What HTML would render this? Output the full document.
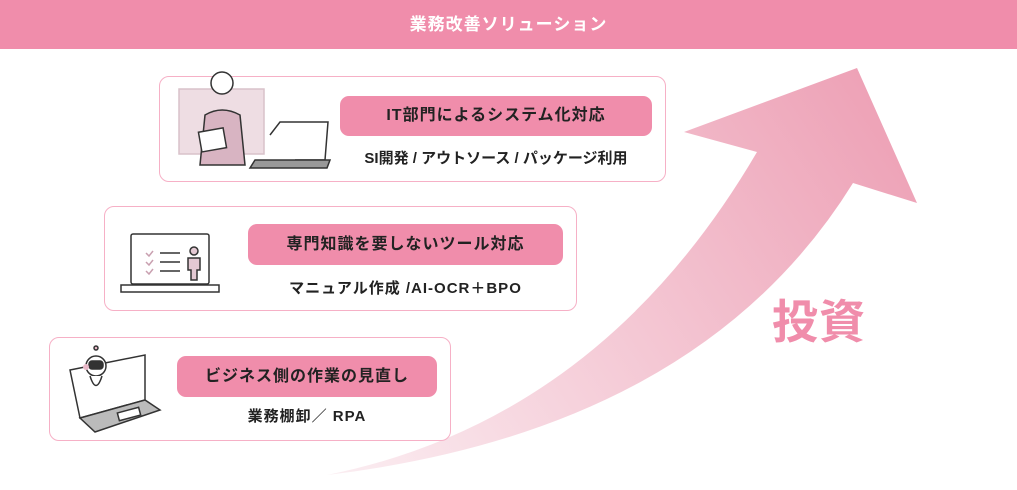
<!DOCTYPE html>
<html><head><meta charset="utf-8"><style>
*{margin:0;padding:0;box-sizing:border-box}
body{width:1017px;height:490px;background:#fff;position:relative;overflow:hidden;font-family:"Liberation Sans","Noto Sans CJK JP",sans-serif;color:#222}
.hdr{position:absolute;left:0;top:0;width:1017px;height:49px;background:#f08dab;color:#fff;font-size:17px;font-weight:bold;text-align:center;line-height:50px;letter-spacing:1px}
.card{position:absolute;border:1.5px solid #f6b0c6;border-radius:10px;background:#fff}
.pill{position:absolute;background:#f08dab;border-radius:9px;font-size:16px;font-weight:bold;text-align:center;color:#222;letter-spacing:1px}
.sub{position:absolute;font-size:15px;font-weight:bold;text-align:center;color:#222}
.inv{position:absolute;left:772px;top:286px;font-size:46px;font-weight:bold;color:#f08dab;letter-spacing:1px}
svg{position:absolute;left:0;top:0}
</style></head><body>
<div class="hdr">業務改善ソリューション</div>
<svg width="1017" height="490">
<defs><linearGradient id="g" x1="327" y1="475" x2="900" y2="100" gradientUnits="userSpaceOnUse">
<stop offset="0" stop-color="#fbeef2"/><stop offset="1" stop-color="#eda0b5"/></linearGradient></defs>
<path d="M327,475 Q600,420 757,152 L684,132 L857,68 L917,203 L853,183 Q700,430 327,475 Z" fill="url(#g)"/>
</svg>
<div class="card" style="left:159px;top:76px;width:507px;height:106px"></div>
<div class="card" style="left:104px;top:206px;width:473px;height:105px"></div>
<div class="card" style="left:49px;top:337px;width:402px;height:104px"></div>
<div class="pill" style="left:340px;top:96px;width:312px;height:40px;line-height:40px">IT部門によるシステム化対応</div>
<div class="sub" style="left:340px;top:147px;width:312px">SI開発 / アウトソース / パッケージ利用</div>
<div class="pill" style="left:248px;top:224px;width:315px;height:41px;line-height:41px">専門知識を要しないツール対応</div>
<div class="sub" style="left:248px;top:277px;width:315px;letter-spacing:1px">マニュアル作成 /AI-OCR＋BPO</div>
<div class="pill" style="left:177px;top:356px;width:260px;height:41px;line-height:41px">ビジネス側の作業の見直し</div>
<div class="sub" style="left:177px;top:405px;width:260px;letter-spacing:1px">業務棚卸／ RPA</div>
<div class="inv">投資</div>
<svg width="1017" height="490" fill="none" stroke="#333" stroke-width="1.5">
<rect x="179" y="89" width="85" height="65" fill="#eedde3" stroke="#d9c2ca"/>
<circle cx="222" cy="83" r="11" fill="#fff"/>
<path d="M200,165 L205,115 Q222,105 240,115 L245,165 Z" fill="#d8b4c2"/>
<rect x="200" y="130" width="25" height="20" fill="#fff" transform="rotate(-10 212 140)"/>
<path d="M270,135 L280,122 L328,122 L325,160 L295,160" fill="#fff"/>
<path d="M255,160 L330,160 L327,168 L250,168 Z" fill="#999"/>
<rect x="131" y="234" width="78" height="50" rx="2" fill="#fff"/>
<path d="M121,285 L219,285 L219,292 L121,292 Z" fill="#fff"/>
<path d="M160,253h20M160,262h20M160,271h20" />
<path d="M146,253l3,3 4,-5M146,262l3,3 4,-5M146,271l3,3 4,-5" stroke="#c9a0b0"/>
<circle cx="194" cy="251" r="4" fill="#e4c9d3"/>
<path d="M188,258h12v12h-3v10h-6v-10h-3z" fill="#e4c9d3"/>
<path d="M70,370 L145,355 L145,400 L80,418 Z" fill="#fff"/>
<path d="M80,418 L145,400 L160,410 L95,432 Z" fill="#bbb"/>
<rect x="118" y="410" width="22" height="8" fill="#fff" transform="rotate(-15 129 414)"/>
<circle cx="96" cy="366" r="10" fill="#fff"/>
<rect x="89" y="361" width="14" height="8" rx="3" fill="#333"/>
<circle cx="86" cy="367" r="3" fill="#e8b8c8" stroke="none"/>
<path d="M90,376 Q96,395 102,376" fill="#fff"/>
<circle cx="96" cy="348" r="2" fill="#e8b8c8"/>
</svg>
</body></html>
